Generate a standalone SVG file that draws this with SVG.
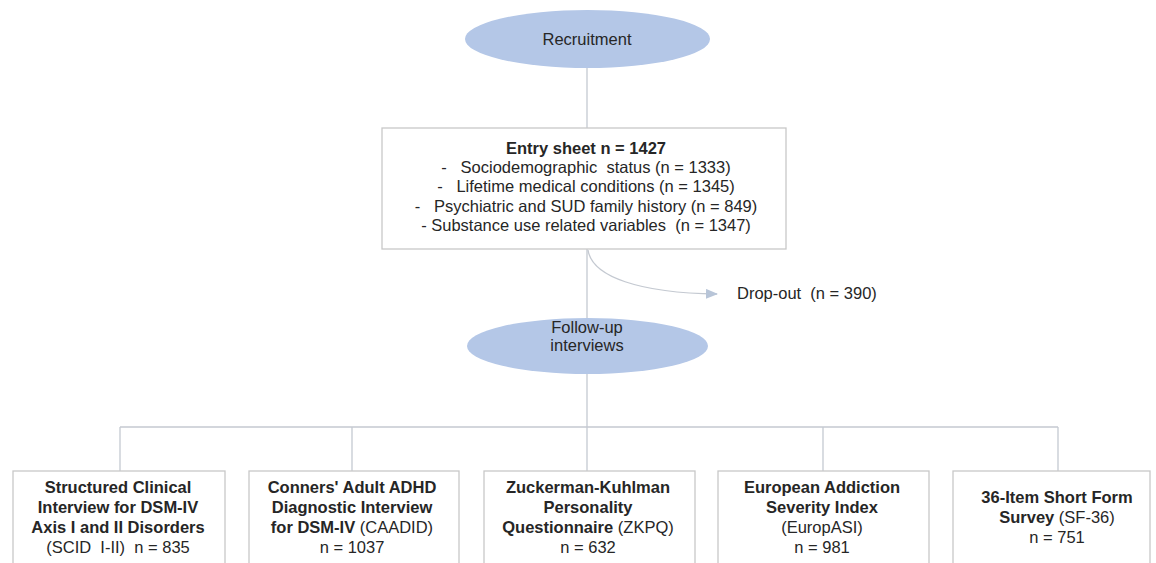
<svg xmlns="http://www.w3.org/2000/svg" width="1156" height="563" viewBox="0 0 1156 563">
<style>
  text { font-family: "Liberation Sans", Arial, sans-serif; font-size: 16.5px; fill: #262626; white-space: pre; }
  .c { text-anchor: middle; }
  .b { font-weight: bold; }
  .ell { fill: #b4c7e7; stroke: none; }
  .box { fill: #ffffff; stroke: #c8c8c8; stroke-width: 1.3; }
  .conn { fill: none; stroke: #c4c9d1; stroke-width: 1.3; }
</style>
<defs>
  <marker id="arr" markerWidth="12" markerHeight="10" refX="11" refY="5" orient="auto" markerUnits="userSpaceOnUse">
    <path d="M0,0 L12,5 L0,10 Z" fill="#b8c5d8"/>
  </marker>
</defs>
<rect width="1156" height="563" fill="#ffffff"/>

<g id="connectors">
  <line class="conn" x1="587" y1="68" x2="587" y2="128"/>
  <line class="conn" x1="587" y1="249" x2="587" y2="318"/>
  <line class="conn" x1="587" y1="374" x2="587" y2="427"/>
  <path class="conn" d="M588,250 C592,277 640,293 717,294" marker-end="url(#arr)"/>
  <line class="conn" x1="120" y1="427" x2="1058" y2="427"/>
  <line class="conn" x1="120" y1="427" x2="120" y2="471"/>
  <line class="conn" x1="352" y1="427" x2="352" y2="471"/>
  <line class="conn" x1="587" y1="427" x2="587" y2="471"/>
  <line class="conn" x1="823" y1="427" x2="823" y2="471"/>
  <line class="conn" x1="1058" y1="427" x2="1058" y2="471"/>
</g>

<g id="recruitment">
  <ellipse class="ell" cx="587.5" cy="39" rx="122.5" ry="29"/>
  <text class="c" x="587" y="45">Recruitment</text>
</g>

<g id="entry-sheet">
  <rect class="box" x="382" y="128" width="404" height="121"/>
  <text class="c b" x="586" y="154">Entry sheet n = 1427</text>
  <text class="c" x="586" y="173">-   Sociodemographic  status (n = 1333)</text>
  <text class="c" x="586" y="192">-   Lifetime medical conditions (n = 1345)</text>
  <text class="c" x="586" y="211.5">-   Psychiatric and SUD family history (n = 849)</text>
  <text class="c" x="586" y="231">- Substance use related variables  (n = 1347)</text>
</g>

<g id="dropout">
  <text x="737" y="299">Drop-out  (n = 390)</text>
</g>

<g id="follow-up">
  <ellipse class="ell" cx="587.5" cy="346" rx="120.5" ry="28"/>
  <text class="c" x="587" y="333">Follow-up</text>
  <text class="c" x="587" y="351">interviews</text>
</g>

<g id="scid">
  <rect class="box" x="13" y="471" width="212" height="100"/>
  <text class="c b" x="118" y="493">Structured Clinical</text>
  <text class="c b" x="118" y="513">Interview for DSM-IV</text>
  <text class="c b" x="118" y="533">Axis I and II Disorders</text>
  <text class="c" x="118" y="553">(SCID  I-II)  n = 835</text>
</g>

<g id="caadid">
  <rect class="box" x="249" y="471" width="210" height="100"/>
  <text class="c b" x="352" y="493">Conners' Adult ADHD</text>
  <text class="c b" x="352" y="513">Diagnostic Interview</text>
  <text class="c" x="352" y="533"><tspan class="b">for DSM-IV</tspan> (CAADID)</text>
  <text class="c" x="352" y="553">n = 1037</text>
</g>

<g id="zkpq">
  <rect class="box" x="484" y="471" width="211" height="100"/>
  <text class="c b" x="588" y="493">Zuckerman-Kuhlman</text>
  <text class="c b" x="588" y="513">Personality</text>
  <text class="c" x="588" y="533"><tspan class="b">Questionnaire</tspan> (ZKPQ)</text>
  <text class="c" x="588" y="553">n = 632</text>
</g>

<g id="europasi">
  <rect class="box" x="718" y="471" width="211" height="100"/>
  <text class="c b" x="822" y="493">European Addiction</text>
  <text class="c b" x="822" y="513">Severity Index</text>
  <text class="c" x="822" y="533">(EuropASI)</text>
  <text class="c" x="822" y="553">n = 981</text>
</g>

<g id="sf36">
  <rect class="box" x="953" y="471" width="197" height="100"/>
  <text class="c b" x="1057" y="503">36-Item Short Form</text>
  <text class="c" x="1057" y="523"><tspan class="b">Survey</tspan> (SF-36)</text>
  <text class="c" x="1057" y="543">n = 751</text>
</g>
</svg>
